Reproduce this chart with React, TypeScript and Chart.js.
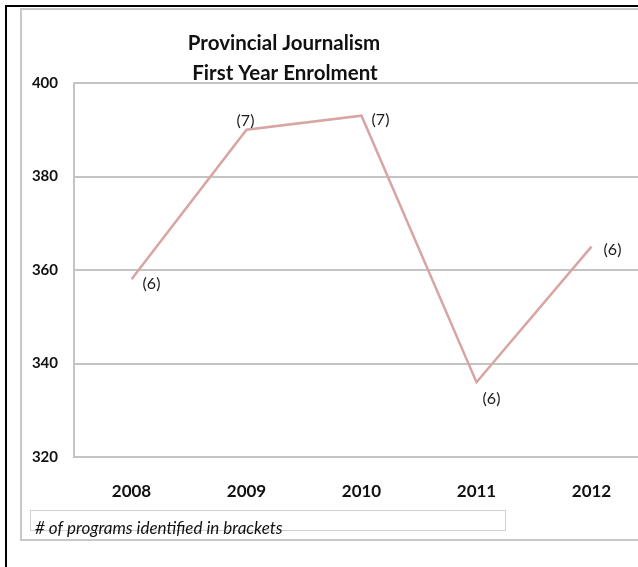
import React, { useEffect, useRef } from "react";
import { Chart, registerables } from "chart.js";

Chart.register(...registerables);

const years = ["2008", "2009", "2010", "2011", "2012"];
const enrolment = [358, 390, 393, 336, 365];
const programs = [6, 7, 7, 6, 6];
const yTicks = [320, 340, 360, 380, 400];
const titleLines = ["Provincial Journalism", "First Year Enrolment"];
const footnote = "# of programs identified in brackets";

// label offsets (px) relative to each point — styling only
const labelDx = [20, -1, 19, 15, 21];
const labelDy = [4, -9, 4, 17, 3];

const FONT = "Lato, 'Open Sans', sans-serif";
const GRID = "#c4c4c4";

const decorPlugin = {
  id: "decor",
  beforeDraw(chart: any) {
    const ctx = chart.ctx;
    ctx.save();
    ctx.fillStyle = "#ffffff";
    ctx.fillRect(0, 0, chart.width, chart.height);
    // black frame (top + left)
    ctx.fillStyle = "#000000";
    ctx.fillRect(5, 5, chart.width, 2);
    ctx.fillRect(5, 5, 2, chart.height);
    // grey chart box
    ctx.strokeStyle = "#c8c8c8";
    ctx.lineWidth = 2;
    ctx.strokeRect(21, 9, chart.width, 531);
    ctx.restore();
  },
  afterDraw(chart: any) {
    const ctx = chart.ctx;
    const xs = chart.scales.x;
    const ys = chart.scales.y;
    ctx.save();
    // data labels
    ctx.fillStyle = "#1a1a1a";
    ctx.font = `16px ${FONT}`;
    ctx.textAlign = "center";
    ctx.textBaseline = "middle";
    enrolment.forEach((v, i) => {
      const px = xs.getPixelForValue(i);
      const py = ys.getPixelForValue(v);
      ctx.fillText(`(${programs[i]})`, px + labelDx[i], py + labelDy[i]);
    });
    // title
    ctx.fillStyle = "#111111";
    ctx.font = `bold 20.5px ${FONT}`;
    ctx.textBaseline = "alphabetic";
    ctx.fillText(titleLines[0], 284, 50);
    ctx.fillText(titleLines[1], 285, 80);
    // footnote box
    ctx.strokeStyle = "#d0d0d0";
    ctx.lineWidth = 1;
    ctx.strokeRect(30.5, 510.5, 475, 20);
    ctx.fillStyle = "#111111";
    ctx.font = `italic 17px ${FONT}`;
    ctx.textAlign = "left";
    ctx.textBaseline = "middle";
    ctx.fillText(footnote, 35, 529);
    ctx.restore();
  },
};

export default function App() {
  const ref = useRef<HTMLCanvasElement | null>(null);
  useEffect(() => {
    if (!ref.current) return;
    const chart = new Chart(ref.current, {
      type: "line",
      data: {
        labels: years,
        datasets: [
          {
            data: enrolment,
            borderColor: "#d9a4a4",
            borderWidth: 2.5,
            pointRadius: 0,
            tension: 0,
            fill: false,
          },
        ],
      },
      options: {
        animation: false,
        responsive: false,
        layout: { padding: { left: 0, right: 11, top: 83, bottom: 0 } },
        plugins: {
          legend: { display: false },
          title: { display: false },
          tooltip: { enabled: false },
        },
        scales: {
          x: {
            type: "category",
            offset: true,
            grid: { display: false, drawTicks: false },
            border: { display: false },
            ticks: {
              color: "#111111",
              font: { family: FONT, size: 17, weight: "bold" },
              padding: 24,
              maxRotation: 0,
            },
            afterFit: (s: any) => {
              s.height = 110;
            },
          },
          y: {
            min: yTicks[0],
            max: yTicks[yTicks.length - 1],
            afterBuildTicks: (s: any) => {
              s.ticks = yTicks.map((v) => ({ value: v }));
            },
            grid: { color: GRID, lineWidth: 2, drawTicks: false },
            border: { display: true, color: GRID, width: 2 },
            ticks: {
              color: "#111111",
              font: { family: FONT, size: 15, weight: "bold" },
              padding: 16,
            },
            afterFit: (s: any) => {
              s.width = 74;
            },
          },
        },
      },
      plugins: [decorPlugin],
    });
    return () => chart.destroy();
  }, []);
  return (
    <div
      style={{
        position: "fixed",
        left: 0,
        top: 0,
        width: 638,
        height: 567,
        overflow: "hidden",
        background: "#fff",
      }}
    >
      <canvas ref={ref} width={660} height={567} style={{ width: 660, height: 567, display: "block" }} />
    </div>
  );
}
